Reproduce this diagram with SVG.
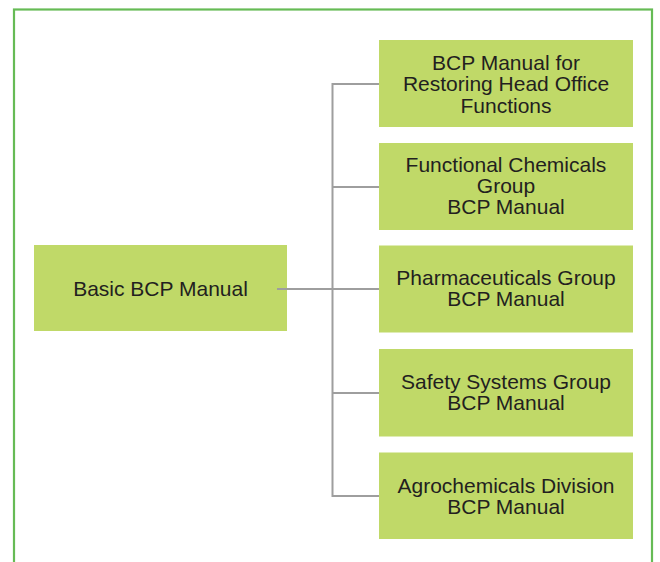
<svg xmlns="http://www.w3.org/2000/svg" width="660" height="562" viewBox="0 0 660 562">
<style>
.box{fill:#c0d968;}
.t{font-family:"Liberation Sans",Arial,sans-serif;font-size:21px;fill:#231f20;text-anchor:middle;}
.c{fill:none;stroke:#9e9e9e;stroke-width:2;}
</style>
<rect x="0" y="0" width="660" height="562" fill="#ffffff"/>
<rect id="frame" x="14" y="9.5" width="638" height="600" fill="none" stroke="#66bb55" stroke-width="2.2"/>
<g id="basic">
<rect class="box" x="34" y="245" width="253" height="86"/>
<text class="t" x="160.5" y="296">Basic BCP Manual</text>
</g>
<g id="headoffice">
<rect class="box" x="379" y="40" width="254" height="87"/>
<text class="t" x="506" y="69.5">BCP Manual for</text>
<text class="t" x="506" y="91">Restoring Head Office</text>
<text class="t" x="506" y="112.5">Functions</text>
</g>
<g id="functional">
<rect class="box" x="379" y="143" width="254" height="87"/>
<text class="t" x="506" y="171.5">Functional Chemicals</text>
<text class="t" x="506" y="192.5">Group</text>
<text class="t" x="506" y="213.5">BCP Manual</text>
</g>
<g id="pharma">
<rect class="box" x="379" y="245.5" width="254" height="87"/>
<text class="t" x="506" y="285">Pharmaceuticals Group</text>
<text class="t" x="506" y="306">BCP Manual</text>
</g>
<g id="safety">
<rect class="box" x="379" y="349" width="254" height="87.5"/>
<text class="t" x="506" y="389">Safety Systems Group</text>
<text class="t" x="506" y="410">BCP Manual</text>
</g>
<g id="agro">
<rect class="box" x="379" y="452.5" width="254" height="86.5"/>
<text class="t" x="506" y="492.5">Agrochemicals Division</text>
<text class="t" x="506" y="513.5">BCP Manual</text>
</g>
<g id="connectors">
<path class="c" d="M379 84 H332.5 V496 H379"/>
<path class="c" d="M332.5 187 H379"/>
<path class="c" d="M332.5 393 H379"/>
<path class="c" d="M277 289 H379"/>
</g>
</svg>
